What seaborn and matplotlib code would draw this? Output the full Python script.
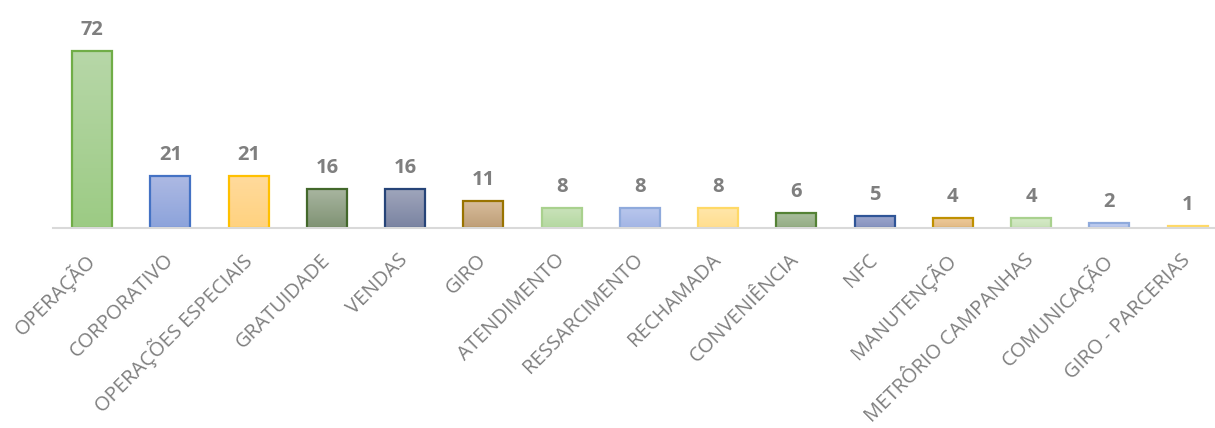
import numpy as np
import pandas as pd
import matplotlib
matplotlib.use("Agg")
import matplotlib.pyplot as plt
import matplotlib.colors as mcolors
import seaborn as sns

categories = [
    "OPERAÇÃO", "CORPORATIVO", "OPERAÇÕES ESPECIAIS", "GRATUIDADE", "VENDAS",
    "GIRO", "ATENDIMENTO", "RESSARCIMENTO", "RECHAMADA", "CONVENIÊNCIA",
    "NFC", "MANUTENÇÃO", "METRÔRIO CAMPANHAS", "COMUNICAÇÃO", "GIRO - PARCERIAS",
]
values = [72, 21, 21, 16, 16, 11, 8, 8, 8, 6, 5, 4, 4, 2, 1]

# gradient fill (top -> bottom) and outline for each bar
top_colors = [
    "#B7D7A8", "#ADB9E3", "#FFDA9C", "#A9B6A1", "#A0A6BC",
    "#D8BD9C", "#C9E2BA", "#B8C6EC", "#FFE6AA", "#A8BE9C",
    "#9DA7CC", "#EDCA9A", "#D6EAC9", "#C3CFF0", "#FFE9B0",
]
bottom_colors = [
    "#9CCB84", "#8CA3DB", "#FFD27F", "#7F9273", "#7A83A1",
    "#BE9E77", "#B4D8A0", "#A3B5E5", "#FFDE8E", "#94AC84",
    "#8591BE", "#E2B985", "#C8E2B7", "#B3C3EB", "#FFE09A",
]
edge_colors = [
    "#70AD47", "#4472C4", "#FFC000", "#43682B", "#264478",
    "#997300", "#A9D18E", "#8FAADC", "#FFD966", "#548235",
    "#2F5597", "#BF9000", "#A9D18E", "#8FAADC", "#FFD966",
]

df = pd.DataFrame({"categoria": categories, "total": values})

sns.set_theme(style="white")
plt.rcParams["font.family"] = ["Open Sans", "DejaVu Sans"]

fig = plt.figure(figsize=(12.15, 4.28), dpi=100)
ax = fig.add_axes([53 / 1215, 200 / 428, (1215 - 53) / 1215, 197 / 428])

sns.barplot(data=df, x="categoria", y="total", ax=ax, width=0.51,
            color="white", saturation=1, errorbar=None)

xlim = (-0.5, 14.35)
ylim = (0, 80)

for patch, c_top, c_bot, c_edge in zip(ax.patches, top_colors, bottom_colors, edge_colors):
    x0, y0 = patch.get_x(), patch.get_y()
    w, h = patch.get_width(), patch.get_height()
    t = np.linspace(0, 1, 128)[:, None]
    rgb_top = np.array(mcolors.to_rgb(c_top))
    rgb_bot = np.array(mcolors.to_rgb(c_bot))
    grad = (rgb_bot * (1 - t) + rgb_top * t)[:, None, :]
    im = ax.imshow(grad, extent=[x0, x0 + w, y0, y0 + h], origin="lower",
                   aspect="auto", interpolation="bilinear", zorder=1)
    im.set_clip_path(patch)
    patch.set_facecolor("none")
    patch.set_edgecolor(c_edge)
    patch.set_linewidth(1.6)
    patch.set_zorder(2)

for i, v in enumerate(values):
    ax.annotate(f"{v}", xy=(i, v), xytext=(0, 11.5), textcoords="offset points",
                ha="center", va="baseline", fontsize=14.5, fontweight="bold",
                color="#7F7F7F")

ax.set_xlim(*xlim)
ax.set_ylim(*ylim)
ax.set_xlabel("")
ax.set_ylabel("")
ax.set_yticks([])
ax.set_xticks(range(len(categories)))
ax.set_xticklabels(categories, rotation=45, ha="right", va="center",
                   rotation_mode="anchor", fontsize=14.5, color="#7F7F7F")
ax.tick_params(axis="x", length=0, pad=21)

for side in ("top", "left", "right"):
    ax.spines[side].set_visible(False)
ax.spines["bottom"].set_color("#D9D9D9")
ax.spines["bottom"].set_linewidth(1.5)
ax.spines["bottom"].set_zorder(3)

fig.savefig("out.png", dpi=100, facecolor="white")
